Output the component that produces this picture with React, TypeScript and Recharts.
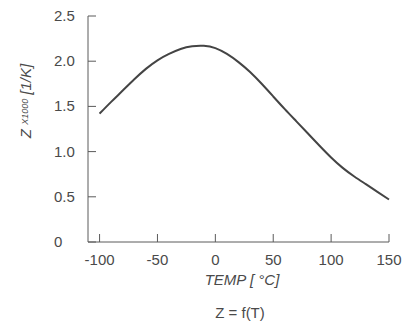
import React from "react";
import { LineChart, Line, XAxis, YAxis } from "recharts";

const temps = [-100, -90, -80, -70, -60, -50, -40, -30, -20, -10, 0, 10, 20, 30, 40, 50, 60, 70, 80, 90, 100, 110, 120, 130, 140, 150];
const zValues = [1.42, 1.55, 1.675, 1.8, 1.915, 2.01, 2.08, 2.135, 2.165, 2.17, 2.145, 2.08, 1.99, 1.88, 1.75, 1.61, 1.47, 1.335, 1.2, 1.065, 0.935, 0.82, 0.725, 0.64, 0.555, 0.47];
const xTicks = [-100, -50, 0, 50, 100, 150];
const yTicks = [0, 0.5, 1, 1.5, 2, 2.5];
const yTickLabels = ["0", "0.5", "1.0", "1.5", "2.0", "2.5"];

const data = temps.map((t, i) => ({ t, z: zValues[i] }));

const FONT = "'Liberation Sans', Arial, Helvetica, sans-serif";
const TEXT = "#4a4a4a";
const AXIS = "#5a5a5a";

const YTick = (props: any) => {
  const { y, payload } = props;
  const idx = yTicks.indexOf(payload.value);
  return (
    <text x={54} y={y} dy={5} fontSize={15} fill={TEXT} fontFamily={FONT} textAnchor="start">
      {idx >= 0 ? yTickLabels[idx] : payload.value}
    </text>
  );
};

const XTick = (props: any) => {
  const { x, payload } = props;
  return (
    <text x={x} y={265} fontSize={15} fill={TEXT} fontFamily={FONT} textAnchor="middle">
      {payload.value}
    </text>
  );
};

export default function App() {
  return (
    <div style={{ position: "absolute", left: 0, top: 0, width: 404, height: 322, background: "#fff" }}>
      <LineChart width={404} height={322} data={data} margin={{ top: 16, right: 15, bottom: 0, left: 28 }}>
        <XAxis
          dataKey="t"
          type="number"
          domain={[-110, 150]}
          ticks={xTicks}
          tickSize={-8}
          tickMargin={16}
          stroke={AXIS}
          tick={<XTick />}
          height={80}
          interval={0}
        />
        <YAxis
          type="number"
          domain={[0, 2.5]}
          ticks={yTicks}
          tickSize={-8}
          tickMargin={16}
          stroke={AXIS}
          tick={<YTick />}
          width={60}
          interval={0}
        />
        <Line
          type="natural"
          dataKey="z"
          stroke="#444"
          strokeWidth={2}
          dot={false}
          isAnimationActive={false}
        />
        <text
          x={25}
          y={101}
          transform="rotate(-90 25 101)"
          textAnchor="middle"
          dominantBaseline="central"
          fontSize={15}
          fontStyle="italic"
          fill={TEXT}
          fontFamily={FONT}
        >
          Z <tspan fontSize={9}>X1000</tspan> [1/K]
        </text>
        <text x={242} y={285} textAnchor="middle" fontSize={15} fontStyle="italic" fill={TEXT} fontFamily={FONT}>
          TEMP [ °C]
        </text>
        <text x={240} y={318} textAnchor="middle" fontSize={15} fill={TEXT} fontFamily={FONT}>
          Z = f(T)
        </text>
      </LineChart>
    </div>
  );
}
